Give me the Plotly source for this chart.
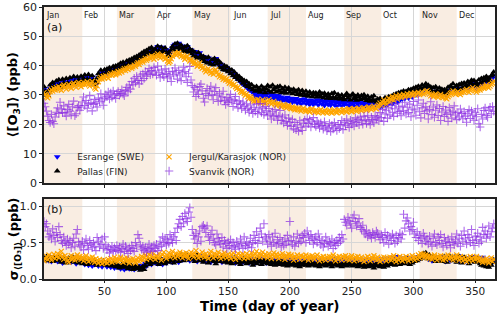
import plotly.graph_objects as go

days = list(range(1, 366))

month_names = ["Jan", "Feb", "Mar", "Apr", "May", "Jun", "Jul", "Aug", "Sep", "Oct", "Nov", "Dec"]
month_starts = [1, 32, 60, 91, 121, 152, 182, 213, 244, 274, 305, 335]
month_ends = [32, 60, 91, 121, 152, 182, 213, 244, 274, 305, 335, 366]
shaded_months = [0, 2, 4, 6, 8, 10]

# (a) daily mean ozone (ppb)
esrange = [
32.1,31.5,30.6,30.0,30.7,32.2,33.1,32.8,33.6,33.0,
33.9,33.2,34.1,33.5,32.9,34.2,34.8,34.0,33.4,34.3,
35.0,34.2,33.8,34.9,35.4,34.5,34.0,35.1,35.7,34.8,
34.2,35.0,35.8,35.0,35.5,36.0,35.1,34.4,35.3,36.1,
34.9,33.8,33.4,34.5,35.9,36.8,37.5,36.9,37.8,37.3,
38.0,37.7,37.2,38.3,38.8,38.2,38.6,39.1,38.5,39.0,
39.5,39.1,39.8,39.4,40.1,40.7,40.0,40.8,40.3,41.0,
41.5,40.8,41.4,42.0,41.6,42.3,42.8,42.2,43.0,43.6,
43.1,43.8,44.5,43.7,44.2,45.1,44.6,45.4,45.1,44.5,
45.3,45.9,46.5,45.6,45.0,45.8,46.3,45.5,44.8,45.4,
44.3,43.6,44.1,45.0,46.0,46.8,47.3,46.6,47.2,47.6,
47.0,46.2,46.7,46.0,45.2,46.0,46.5,45.5,44.8,45.3,
44.5,43.9,44.8,44.1,43.2,43.7,44.4,43.3,42.6,43.1,
42.1,41.4,42.0,42.6,41.7,41.0,41.5,40.8,42.1,42.4,
41.6,40.7,40.0,40.5,39.8,39.1,39.6,38.9,39.3,38.5,
37.8,38.3,37.5,36.9,37.2,36.3,35.6,36.0,35.2,34.5,
34.0,34.5,33.6,32.9,33.2,32.3,31.6,32.1,31.5,30.7,
30.6,29.5,31.0,29.8,30.4,29.1,30.8,29.6,30.2,28.9,
29.9,30.8,29.2,30.3,28.7,30.1,29.4,28.5,29.8,28.8,
29.7,28.4,29.3,28.1,29.0,28.6,27.8,29.2,28.3,27.7,
28.9,27.5,28.6,27.9,28.8,27.3,28.4,27.8,26.9,28.5,
27.6,28.7,27.0,28.1,27.4,26.7,28.3,27.5,26.8,28.0,
27.3,28.4,26.6,27.7,28.2,26.9,27.8,26.4,27.5,28.1,
26.8,27.9,26.5,27.6,28.3,26.7,27.4,26.2,27.8,26.9,
27.5,26.3,27.9,26.8,27.2,28.0,26.5,27.6,26.1,27.3,
26.7,27.8,26.2,27.4,26.9,27.7,26.0,27.2,26.6,27.5,
26.3,27.4,26.8,25.9,27.1,26.5,27.6,26.0,26.9,26.2,
26.4,27.3,25.8,26.9,26.2,27.5,26.6,27.9,26.8,27.7,
27.4,28.3,27.0,28.6,27.8,28.9,27.6,29.0,28.2,29.3,
28.6,29.7,28.8,29.5,30.1,29.0,29.9,30.4,29.3,30.5,
30.6,30.0,30.5,31.0,30.4,30.9,31.5,30.9,31.3,31.9,
32.4,31.8,31.2,30.7,31.1,30.5,30.9,31.3,30.7,30.2,
30.8,31.2,30.6,30.1,30.7,30.0,29.7,30.3,30.9,31.5,
31.9,32.5,31.8,31.2,31.7,32.2,31.6,31.2,31.8,32.4,
31.9,32.6,33.1,32.5,32.1,32.7,33.3,33.9,33.2,32.7,
32.2,32.9,33.5,33.0,33.6,34.2,33.7,34.4,35.0,34.4,
33.9,34.6,35.3,35.9,36.6]

pallas = [
32.8,31.2,30.1,29.8,31.5,33.4,32.2,34.3,33.0,32.1,
34.8,33.1,35.2,33.4,32.6,35.4,34.0,33.2,35.6,34.1,
33.5,35.9,34.2,33.6,36.3,34.5,33.8,36.1,35.0,34.3,
36.4,34.8,35.6,36.8,34.9,35.4,37.0,35.2,34.5,36.6,
35.0,33.6,34.3,35.7,37.2,36.3,38.4,37.0,36.8,38.6,
37.4,38.9,37.6,39.3,38.1,37.8,39.7,38.6,39.9,38.5,
40.2,39.0,40.8,39.5,41.2,40.0,39.7,41.6,40.5,41.9,
40.8,42.3,41.2,42.8,41.5,43.1,42.2,43.6,42.7,44.2,
43.0,44.8,43.6,45.2,44.0,45.8,44.3,46.2,44.9,43.8,
45.6,44.5,46.6,45.0,44.2,46.3,45.1,44.7,46.0,44.6,
43.4,44.6,43.2,45.4,46.5,45.3,47.4,46.0,47.6,46.3,
45.5,47.0,45.9,44.8,46.4,45.0,46.8,44.6,45.7,44.1,
45.2,43.3,44.6,43.0,42.5,44.4,42.8,43.5,41.9,43.1,
41.4,42.6,40.9,42.9,41.0,40.5,42.0,40.2,42.4,41.3,
40.6,41.8,39.5,40.9,39.2,38.6,40.0,38.4,39.6,37.9,
38.8,37.2,38.5,36.6,37.8,36.0,36.9,35.4,36.3,34.8,
35.5,34.0,34.9,33.3,34.6,32.9,33.8,32.4,33.5,31.8,
32.6,31.3,32.9,31.5,32.2,30.9,33.0,31.6,32.4,30.8,
32.0,33.2,31.4,32.7,30.9,33.3,31.8,32.5,31.0,32.8,
31.5,33.0,30.8,32.1,31.2,32.6,30.6,31.9,32.4,30.9,
31.7,30.4,32.0,30.9,31.4,30.2,31.8,30.5,29.9,31.5,
30.6,29.8,31.3,30.1,29.6,31.0,30.3,29.4,30.8,29.9,
30.7,29.3,30.2,31.0,29.5,30.4,29.1,30.6,29.8,28.9,
30.3,29.5,28.8,30.5,29.2,30.8,29.0,28.7,30.2,29.4,
28.6,30.0,29.1,28.4,29.8,30.5,28.9,29.6,28.3,29.9,
30.3,28.8,29.5,28.2,30.0,29.2,28.5,29.8,28.7,30.1,
29.0,28.1,29.6,28.6,27.9,29.3,28.4,29.7,28.0,27.6,
28.6,27.4,28.8,27.9,27.2,28.5,29.1,27.7,28.3,29.4,
28.0,29.6,28.7,30.1,29.0,30.4,29.4,30.8,29.9,31.0,
30.2,31.4,30.0,31.2,30.6,31.8,30.5,31.9,31.0,32.3,
31.2,32.6,31.5,33.0,31.8,32.4,33.4,32.0,32.9,33.8,
32.6,33.3,31.9,32.7,31.3,32.5,31.0,32.8,31.5,30.9,
32.4,31.2,32.0,30.6,31.8,30.4,31.5,32.6,31.0,33.1,
32.2,33.8,32.4,31.6,33.2,32.1,33.6,32.0,33.9,32.6,
34.1,32.8,33.4,34.6,33.0,34.2,35.0,33.6,34.9,33.4,
34.3,33.1,35.2,34.0,35.6,34.4,35.9,34.8,36.3,35.1,
35.8,34.6,36.5,37.0,37.8]

jergul = [
30.8,30.2,29.4,29.0,29.7,31.1,31.8,31.3,32.2,31.7,
32.5,31.9,32.8,32.1,31.6,32.9,33.4,32.6,32.0,33.0,
33.6,32.8,32.3,33.5,34.0,33.1,32.6,33.8,34.3,33.4,
32.8,33.6,34.3,33.5,34.0,34.5,33.7,33.0,33.9,34.6,
33.4,32.4,32.0,33.1,34.5,35.4,36.0,35.4,36.3,35.8,
36.5,36.2,35.7,36.8,37.3,36.7,37.1,37.6,36.9,37.4,
38.0,37.5,38.2,37.8,38.5,39.0,38.3,39.1,38.7,39.3,
39.7,39.1,39.6,40.2,39.8,40.5,41.0,40.4,41.1,41.7,
41.2,41.8,42.5,41.8,42.3,43.0,42.5,43.3,42.8,42.2,
42.9,43.5,44.0,43.2,42.6,43.3,43.7,43.0,42.2,42.7,
41.6,41.0,41.5,42.3,43.2,43.9,44.3,43.6,44.1,44.5,
43.8,43.1,43.6,42.9,42.2,42.9,43.3,42.4,41.6,42.1,
41.3,40.6,41.4,40.7,39.8,40.2,40.9,39.8,39.1,39.5,
38.6,37.9,38.5,39.0,38.1,37.4,37.8,37.1,38.3,38.6,
37.8,36.9,36.2,36.7,36.0,35.3,35.8,35.1,35.5,34.7,
34.0,34.5,33.8,33.2,33.6,32.8,32.2,32.6,31.9,31.2,
30.8,31.3,30.5,29.9,30.3,29.4,28.8,29.4,28.9,28.2,
27.8,28.3,27.9,28.5,27.7,27.2,27.9,28.4,27.6,27.1,
27.5,28.0,28.4,27.6,26.9,27.4,27.8,27.0,26.4,26.9,
27.2,26.5,25.9,26.4,26.8,26.1,25.5,26.0,26.5,25.8,
25.3,25.9,25.4,24.9,25.5,25.0,25.6,24.9,24.5,25.1,
25.5,24.8,24.4,25.0,24.6,24.2,24.9,25.3,24.6,24.1,
24.8,24.3,23.9,24.6,25.1,24.4,24.0,24.7,24.2,23.8,
24.5,24.9,24.2,23.8,24.5,24.9,24.3,23.9,24.6,25.0,
24.5,24.0,24.7,25.1,24.6,24.2,24.9,25.3,24.7,24.3,
25.0,25.4,24.8,24.4,25.1,25.5,25.0,24.6,25.3,25.7,
25.2,24.8,25.5,25.9,25.4,25.0,25.7,26.2,25.6,25.3,
26.0,26.6,27.2,26.5,27.5,28.3,27.4,26.8,28.0,28.9,
27.6,28.5,29.4,28.2,29.0,29.8,28.6,29.3,30.0,29.1,
29.5,30.2,29.4,29.8,30.4,29.6,30.0,30.6,29.8,30.2,
30.7,30.0,30.4,30.9,30.1,30.5,31.0,30.3,30.7,31.2,
31.5,30.9,30.3,29.7,30.1,29.5,29.9,30.4,29.7,29.2,
29.8,30.2,29.5,29.1,29.7,29.0,28.7,29.4,30.0,30.5,
30.9,31.4,30.7,30.2,30.7,31.1,30.5,30.1,30.8,31.3,
30.9,31.5,31.9,31.3,30.9,31.5,32.0,32.5,31.9,31.4,
31.0,31.6,32.1,31.7,32.3,32.8,32.3,32.9,33.4,32.8,
32.4,33.0,33.6,34.1,34.7]

svanvik = [
27.2,26.0,24.5,22.8,21.3,20.6,23.4,21.0,20.2,22.5,
24.1,25.6,23.7,27.5,25.2,24.0,26.3,23.9,22.8,25.1,
26.8,24.5,23.2,26.0,27.9,22.9,23.6,25.7,26.4,24.8,
25.9,27.6,29.3,26.4,28.1,25.5,27.0,29.8,27.3,24.6,
26.8,28.5,27.2,25.9,29.0,27.7,30.4,28.3,26.5,28.9,
30.1,29.4,31.0,28.6,30.7,29.2,31.4,30.0,28.8,30.5,
31.2,29.9,30.6,31.8,30.3,29.7,31.5,32.6,31.1,33.4,
32.0,34.6,33.5,35.7,34.2,36.3,35.0,33.8,36.8,34.9,
37.2,35.6,38.0,36.4,37.5,39.0,36.9,38.3,37.1,39.4,
38.2,36.7,39.8,37.6,35.9,38.5,37.0,36.2,38.9,37.3,
35.8,37.9,36.4,34.6,38.1,36.9,39.2,37.5,35.4,38.4,
36.8,34.9,37.6,39.5,38.0,36.2,34.3,37.4,39.7,35.1,
33.2,31.0,32.6,29.5,31.8,30.2,32.9,33.7,31.4,28.9,
27.6,30.5,32.2,29.8,31.6,33.0,30.1,28.4,31.2,32.5,
29.9,27.8,30.6,28.2,29.4,31.3,28.0,26.7,29.1,27.4,
28.6,30.2,27.9,26.1,28.3,29.5,27.2,25.6,28.0,26.8,
25.3,27.6,26.2,24.8,27.0,25.5,24.1,26.6,25.0,23.7,
25.8,24.4,26.9,23.6,25.2,27.1,24.0,25.6,23.3,26.1,
24.6,22.9,25.4,23.5,21.8,24.3,22.6,25.0,23.1,21.4,
22.8,24.7,21.3,22.5,20.4,23.2,21.0,19.6,22.1,20.8,
19.3,21.7,18.5,20.6,18.1,19.8,17.6,21.2,19.0,17.9,
20.4,21.5,19.4,22.0,20.3,21.6,19.1,20.8,22.3,20.0,
19.2,21.1,20.2,18.7,20.5,19.6,18.3,20.9,19.4,17.8,
18.8,20.3,17.5,19.7,18.4,20.6,19.1,17.9,20.0,18.6,
19.9,21.3,18.2,20.7,19.5,21.8,20.2,18.9,21.4,20.1,
21.0,19.4,22.2,20.6,21.7,19.8,22.5,21.2,20.0,22.8,
21.5,20.3,22.9,21.1,19.9,22.4,21.6,20.5,23.0,21.8,
22.6,21.2,24.0,22.3,25.1,21.0,23.5,24.8,22.1,25.6,
23.2,26.4,24.1,22.7,25.3,27.0,23.8,25.9,24.4,22.9,
26.2,24.6,27.5,23.5,25.8,24.0,26.9,22.6,25.2,27.8,
24.9,23.1,26.5,28.3,24.3,22.2,25.6,27.2,23.7,26.0,
24.6,21.8,25.1,27.7,23.3,25.9,22.4,24.8,26.6,23.0,
25.4,21.3,24.2,26.1,22.7,24.9,23.4,21.0,25.7,23.9,
22.1,24.5,26.3,23.2,21.6,24.0,22.5,25.2,23.7,21.9,
24.3,22.8,20.7,23.6,25.0,22.0,24.6,23.1,21.4,24.1,
22.6,25.3,20.2,19.1,23.4,21.8,24.7,25.6,23.0,22.4,
24.9,25.8,23.6,26.1,24.4]

# (b) standard deviation of the mean (ppb)
esrange_sd = [
.27,.29,.26,.30,.25,.28,.24,.27,.31,.26,
.28,.24,.27,.30,.25,.22,.26,.29,.24,.27,
.25,.28,.23,.26,.30,.24,.21,.27,.29,.25,
.23,.26,.22,.20,.25,.23,.19,.24,.21,.18,
.22,.20,.24,.21,.18,.23,.20,.17,.22,.24,
.20,.17,.21,.19,.16,.20,.18,.15,.19,.17,
.16,.19,.14,.17,.15,.13,.18,.15,.17,.14,
.17,.14,.16,.13,.17,.15,.18,.14,.16,.19,
.15,.19,.22,.18,.24,.21,.25,.20,.23,.26,
.22,.26,.21,.25,.28,.23,.20,.26,.24,.22,
.25,.29,.24,.27,.23,.28,.25,.30,.27,.23,
.27,.31,.26,.30,.28,.32,.27,.30,.25,.29,
.30,.26,.31,.27,.24,.29,.32,.26,.29,.25,
.27,.24,.29,.26,.31,.23,.28,.26,.30,.24,
.28,.25,.30,.26,.23,.29,.27,.24,.30,.26,
.25,.28,.23,.26,.30,.22,.27,.24,.28,.25,
.27,.23,.26,.29,.24,.27,.22,.26,.24,.28,
.25,.22,.27,.24,.26,.29,.24,.22,.27,.25,
.22,.26,.24,.28,.23,.25,.27,.22,.26,.24,
.26,.23,.27,.24,.22,.26,.25,.28,.23,.25,
.24,.27,.22,.25,.28,.24,.26,.23,.27,.24,
.26,.23,.27,.25,.22,.26,.24,.28,.25,.23,
.25,.27,.23,.26,.24,.22,.27,.25,.23,.26,
.24,.27,.25,.23,.28,.24,.26,.29,.25,.23,
.26,.24,.27,.25,.29,.24,.26,.23,.27,.25,
.23,.26,.24,.27,.25,.22,.26,.24,.27,.25,
.24,.26,.23,.27,.25,.22,.25,.28,.24,.26,
.25,.27,.24,.26,.28,.25,.27,.23,.26,.29,
.27,.25,.28,.30,.26,.29,.31,.27,.25,.29,
.26,.28,.25,.27,.30,.26,.24,.28,.25,.27,
.26,.29,.27,.31,.28,.32,.30,.34,.31,.33,
.30,.27,.31,.28,.25,.30,.27,.29,.26,.28,
.29,.26,.28,.31,.27,.24,.28,.30,.27,.25,
.28,.31,.27,.25,.29,.32,.27,.24,.28,.30,
.27,.24,.29,.26,.23,.28,.31,.26,.25,.28,
.30,.26,.29,.25,.27,.30,.26,.22,.25,.21,
.19,.24,.27,.23,.26]

pallas_sd = [
.29,.27,.31,.25,.28,.30,.26,.24,.29,.27,
.25,.28,.31,.26,.23,.27,.30,.25,.22,.26,
.29,.24,.27,.31,.26,.23,.28,.25,.22,.27,
.25,.21,.24,.27,.23,.20,.25,.22,.24,.21,
.23,.26,.21,.19,.24,.22,.20,.23,.25,.21,
.19,.22,.24,.20,.18,.21,.23,.19,.17,.20,
.18,.15,.17,.20,.16,.19,.21,.17,.14,.18,
.20,.16,.13,.17,.15,.19,.14,.16,.12,.15,
.17,.13,.18,.22,.26,.23,.20,.24,.27,.22,
.25,.28,.23,.20,.24,.27,.22,.25,.21,.24,
.28,.23,.26,.30,.25,.22,.27,.31,.26,.24,
.29,.33,.28,.25,.30,.34,.29,.26,.31,.28,
.32,.27,.24,.29,.33,.28,.25,.30,.27,.23,
.28,.31,.26,.22,.27,.30,.25,.29,.24,.21,
.26,.29,.24,.27,.31,.26,.23,.28,.25,.22,
.27,.24,.21,.26,.29,.25,.22,.27,.24,.20,
.25,.28,.23,.26,.21,.24,.27,.22,.25,.19,
.23,.26,.21,.24,.28,.23,.20,.25,.22,.26,
.24,.21,.26,.23,.20,.25,.22,.19,.24,.21,
.23,.20,.25,.22,.19,.24,.21,.18,.23,.20,
.22,.19,.24,.21,.18,.23,.20,.17,.22,.19,
.21,.24,.19,.22,.18,.21,.23,.19,.22,.20,
.18,.22,.20,.17,.21,.23,.19,.22,.18,.20,
.22,.19,.21,.17,.20,.23,.19,.21,.18,.22,
.20,.17,.21,.19,.22,.18,.20,.23,.19,.21,
.18,.21,.19,.22,.17,.20,.18,.21,.19,.16,
.20,.18,.21,.17,.19,.22,.18,.15,.19,.21,
.18,.20,.17,.21,.19,.16,.20,.22,.18,.21,
.23,.20,.24,.21,.19,.23,.26,.22,.20,.24,
.22,.25,.21,.24,.27,.23,.20,.25,.22,.26,
.24,.28,.25,.30,.27,.33,.29,.35,.31,.36,
.32,.28,.33,.29,.26,.31,.27,.24,.29,.26,
.30,.27,.24,.28,.31,.26,.23,.29,.32,.27,
.29,.25,.30,.27,.23,.28,.31,.26,.22,.27,
.30,.25,.28,.24,.21,.26,.29,.24,.27,.23,
.26,.29,.24,.21,.19,.23,.18,.21,.17,.20,
.16,.22,.19,.23,.26]

jergul_sd = [
.25,.28,.31,.27,.33,.29,.26,.30,.34,.28,
.31,.35,.29,.33,.38,.31,.27,.32,.29,.25,
.23,.28,.32,.27,.30,.26,.29,.33,.28,.31,
.27,.30,.25,.28,.32,.27,.24,.29,.26,.30,
.26,.23,.28,.25,.22,.27,.24,.21,.26,.23,
.25,.22,.27,.24,.28,.23,.26,.30,.25,.28,
.24,.27,.30,.26,.23,.28,.25,.29,.26,.22,
.27,.24,.28,.25,.22,.26,.29,.24,.27,.31,
.26,.29,.33,.27,.30,.34,.28,.31,.36,.30,
.27,.32,.29,.35,.30,.26,.33,.37,.31,.28,
.32,.36,.30,.34,.38,.32,.29,.35,.31,.34,
.37,.33,.29,.35,.31,.36,.32,.28,.34,.37,
.33,.30,.35,.39,.32,.29,.34,.31,.37,.33,
.30,.35,.31,.28,.34,.38,.32,.29,.35,.31,
.33,.37,.31,.28,.34,.30,.36,.32,.29,.34,
.31,.28,.33,.36,.30,.27,.32,.35,.29,.33,
.30,.34,.28,.31,.35,.29,.33,.30,.36,.32,
.29,.34,.38,.31,.35,.30,.33,.37,.31,.34,
.32,.29,.35,.31,.28,.33,.36,.30,.34,.31,
.28,.33,.30,.35,.31,.27,.32,.29,.34,.30,
.33,.29,.26,.31,.28,.33,.30,.27,.32,.29,
.31,.28,.33,.30,.26,.31,.28,.32,.29,.27,
.30,.33,.28,.25,.30,.27,.31,.28,.26,.30,
.28,.31,.27,.30,.33,.28,.25,.30,.27,.31,
.29,.26,.31,.28,.32,.27,.30,.26,.29,.32,
.28,.25,.30,.27,.31,.28,.26,.30,.27,.24,
.29,.26,.31,.28,.25,.30,.27,.32,.28,.26,
.30,.27,.24,.29,.26,.30,.28,.25,.29,.27,
.30,.26,.29,.32,.27,.24,.29,.26,.31,.28,
.25,.29,.27,.31,.28,.25,.30,.27,.32,.29,
.26,.30,.28,.33,.29,.35,.31,.34,.30,.33,
.29,.32,.28,.31,.27,.30,.33,.29,.26,.31,
.28,.32,.29,.26,.31,.27,.30,.33,.28,.31,
.29,.26,.31,.28,.33,.29,.26,.31,.28,.25,
.30,.27,.24,.29,.26,.31,.28,.25,.30,.27,
.31,.28,.25,.29,.26,.23,.27,.24,.28,.25,
.22,.26,.29,.24,.27]

svanvik_sd = [
.79,.72,.76,.66,.58,.62,.55,.69,.60,.52,
.64,.57,.72,.61,.53,.49,.58,.51,.46,.55,
.48,.53,.43,.50,.56,.45,.62,.68,.51,.47,
.44,.52,.40,.49,.55,.46,.41,.53,.48,.43,
.50,.45,.39,.57,.52,.44,.48,.55,.42,.58,
.47,.40,.44,.36,.41,.45,.38,.43,.39,.46,
.40,.44,.37,.42,.48,.38,.45,.41,.35,.43,
.39,.46,.42,.38,.50,.44,.61,.56,.47,.41,
.45,.39,.43,.37,.42,.48,.40,.44,.38,.46,
.42,.48,.39,.44,.52,.45,.58,.50,.56,.47,
.54,.49,.61,.55,.50,.58,.64,.53,.70,.76,
.82,.72,.86,.77,.90,.83,.79,.92,.98,.85,
.68,.60,.55,.63,.49,.58,.66,.52,.72,.74,
.70,.64,.73,.58,.53,.61,.67,.55,.50,.47,
.62,.56,.52,.48,.57,.44,.53,.49,.42,.51,
.46,.54,.43,.50,.45,.41,.52,.47,.44,.55,
.49,.42,.58,.46,.51,.44,.48,.56,.43,.50,
.60,.53,.65,.49,.57,.70,.62,.52,.76,.58,
.55,.48,.61,.52,.45,.58,.50,.63,.47,.54,
.49,.57,.44,.52,.46,.55,.48,.60,.52,.79,
.53,.47,.58,.45,.51,.62,.49,.56,.52,.60,
.57,.63,.50,.66,.59,.53,.61,.56,.48,.54,
.58,.50,.62,.55,.47,.53,.44,.49,.58,.52,
.45,.51,.48,.55,.42,.50,.46,.53,.49,.57,
.52,.61,.55,.82,.78,.74,.85,.80,.76,.70,
.84,.88,.79,.73,.77,.83,.71,.68,.74,.65,
.62,.67,.58,.63,.60,.56,.64,.61,.57,.66,
.63,.59,.54,.61,.57,.50,.64,.55,.60,.48,
.58,.53,.62,.56,.49,.60,.52,.57,.63,.55,
.61,.89,.70,.80,.84,.76,.66,.72,.68,.78,
.62,.57,.65,.53,.60,.56,.49,.63,.58,.52,
.55,.48,.59,.51,.45,.56,.62,.50,.47,.58,
.53,.61,.49,.44,.57,.52,.46,.55,.50,.43,
.58,.51,.47,.54,.62,.49,.56,.45,.60,.52,
.66,.55,.48,.61,.57,.50,.68,.53,.46,.59,
.54,.63,.49,.58,.52,.71,.61,.66,.56,.62,
.73,.58,.65,.70,.76]

x_ticks = [50, 100, 150, 200, 250, 300, 350]
top_ticks = [0, 10, 20, 30, 40, 50, 60]
bottom_ticks = [0.0, 0.5, 1.0]
bottom_tick_labels = ["0.0", "0.5", "1.0"]

FONT = "DejaVu Sans"
PURPLE = "rgba(138,43,226,0.7)"

# name, top-panel values, bottom-panel values, marker, legend id
series = [
    ("Esrange (SWE)", esrange, esrange_sd, dict(symbol="triangle-down", size=6, color="blue"), "legend"),
    ("Pallas (FIN)", pallas, pallas_sd, dict(symbol="triangle-up", size=6, color="black"), "legend2"),
    ("Jergul/Karasjok (NOR)", jergul, jergul_sd,
     dict(symbol="x-thin", size=5, color="orange", line=dict(width=1.2, color="orange")), "legend3"),
    ("Svanvik (NOR)", svanvik, svanvik_sd,
     dict(symbol="cross-thin", size=6, color=PURPLE, line=dict(width=1.1, color=PURPLE)), "legend4"),
]

fig = go.Figure()
for name, top, bot, mk, lg in series:
    fig.add_trace(go.Scatter(x=days, y=top, mode="markers", name=name, marker=mk,
                             xaxis="x", yaxis="y", legend=lg, showlegend=True))
    fig.add_trace(go.Scatter(x=days, y=bot, mode="markers", name=name, marker=mk,
                             xaxis="x2", yaxis="y2", showlegend=False))

shapes = []
for i in shaded_months:
    for xr, yref in (("x", "y domain"), ("x2", "y2 domain")):
        shapes.append(dict(type="rect", xref=xr, yref=yref,
                           x0=month_starts[i], x1=month_ends[i], y0=0, y1=1,
                           fillcolor="#f9ede2", line=dict(width=0), layer="below"))

annotations = []
for name, start in zip(month_names, month_starts):
    annotations.append(dict(x=start, y=1.0, xref="x", yref="y domain", text=name,
                            showarrow=False, xanchor="left", yanchor="top", yshift=-2,
                            font=dict(family=FONT, size=8, color="#222")))
annotations += [
    dict(x=0.003, y=0.926, xref="paper", yref="paper", text="(a)", showarrow=False,
         xanchor="left", yanchor="middle", font=dict(family=FONT, size=11, color="#111")),
    dict(x=0.003, y=0.257, xref="paper", yref="paper", text="(b)", showarrow=False,
         xanchor="left", yanchor="middle", font=dict(family=FONT, size=11, color="#111")),
    dict(x=-0.068, y=0.676, xref="paper", yref="paper", textangle=-90,
         text="<b>⟨[O<sub>3</sub>]⟩ (ppb)</b>", showarrow=False, xanchor="center", yanchor="middle",
         font=dict(family=FONT, size=13, color="black")),
    dict(x=-0.066, y=0.147, xref="paper", yref="paper", textangle=-90,
         text="<b>σ<sub>⟨[O₃]⟩</sub> (ppb)</b>", showarrow=False, xanchor="center", yanchor="middle",
         font=dict(family=FONT, size=13, color="black")),
    dict(x=0.5, y=-0.101, xref="paper", yref="paper", text="<b>Time (day of year)</b>",
         showarrow=False, xanchor="center", yanchor="middle", borderpad=0,
         font=dict(family=FONT, size=13.5, color="black")),
]

axis_common = dict(showline=True, linecolor="#222", linewidth=1.5, mirror=True,
                   ticks="outside", ticklen=3, tickwidth=1, tickcolor="#222",
                   showgrid=True, gridcolor="#d6d6d6", gridwidth=1, zeroline=False,
                   automargin=False,
                   tickfont=dict(family=FONT, size=11, color="#222"))

def legend_box(x, y):
    return dict(x=x, y=y, xref="paper", yref="paper", xanchor="left", yanchor="middle",
                bgcolor="rgba(0,0,0,0)", font=dict(family=FONT, size=9, color="#222"),
                itemwidth=30, tracegroupgap=0, borderwidth=0)

fig.update_layout(
    width=500, height=314,
    margin=dict(l=44, r=5, t=7, b=35, autoexpand=False),
    paper_bgcolor="white", plot_bgcolor="white",
    font=dict(family=FONT, size=11, color="#222"),
    xaxis=dict(axis_common, domain=[0, 1], range=[1, 366], tickvals=x_ticks,
               showticklabels=False, anchor="y"),
    yaxis=dict(axis_common, domain=[0.353, 1], range=[0, 60], tickvals=top_ticks, anchor="x"),
    xaxis2=dict(axis_common, domain=[0, 1], range=[1, 366], tickvals=x_ticks, anchor="y2",
                ticklen=2, tickfont=dict(family=FONT, size=10.5, color="#222")),
    yaxis2=dict(axis_common, domain=[0, 0.294], range=[0, 1.1], tickvals=bottom_ticks,
                ticktext=bottom_tick_labels, anchor="x2"),
    shapes=shapes,
    annotations=annotations,
    legend=legend_box(-0.015, 0.449),
    legend2=legend_box(-0.015, 0.397),
    legend3=legend_box(0.233, 0.449),
    legend4=legend_box(0.233, 0.397),
    showlegend=True,
)

fig.write_html(
    "out.html",
    config={"displayModeBar": False},
    post_script="document.body.style.margin='0';document.body.style.overflow='hidden';",
)
